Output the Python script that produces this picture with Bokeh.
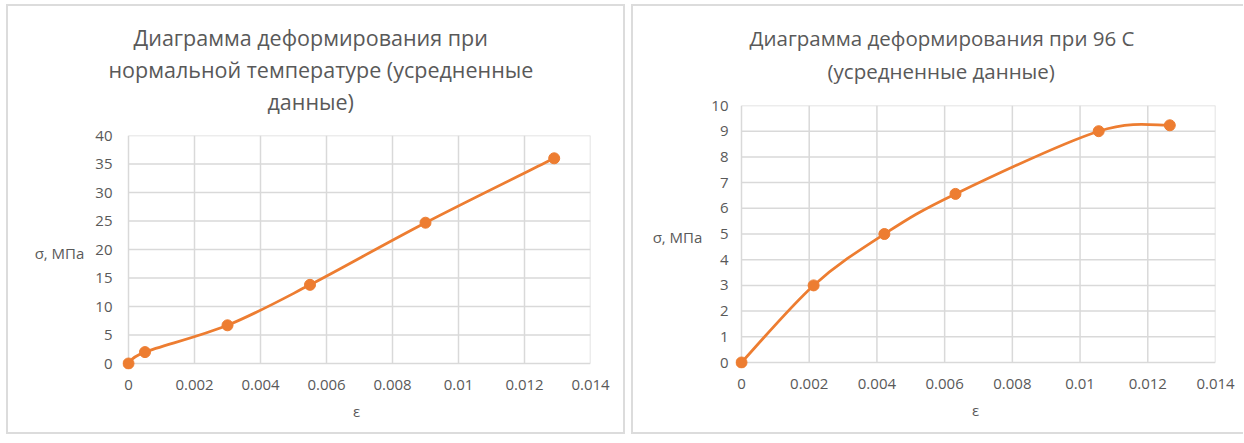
from bokeh.plotting import figure
from bokeh.models import Title, FixedTicker, ColumnDataSource
from bokeh.embed import file_html
from bokeh.resources import INLINE

# ---- data ----
eps_normal = [0.0, 0.0005, 0.0030, 0.0055, 0.0090, 0.0129]
sigma_normal = [0.0, 2.0, 6.7, 13.8, 24.7, 36.0]

eps_96 = [0.0, 0.00213, 0.00422, 0.00632, 0.01055, 0.01265]
sigma_96 = [0.0, 3.0, 5.0, 6.56, 9.0, 9.23]

x_ticks = [0, 0.002, 0.004, 0.006, 0.008, 0.01, 0.012, 0.014]
x_tick_labels = ["0", "0.002", "0.004", "0.006", "0.008", "0.01", "0.012", "0.014"]
y_ticks_normal = [0, 5, 10, 15, 20, 25, 30, 35, 40]
y_ticks_96 = [0, 1, 2, 3, 4, 5, 6, 7, 8, 9, 10]

title_normal = ["Диаграмма деформирования при",
                "нормальной температуре (усредненные",
                "данные)"]
title_96 = ["Диаграмма деформирования при 96 С",
            "(усредненные данные)"]
x_label = "ε"
y_label = "σ, МПа"

FONT = "Open Sans"
TXT = "#595959"
GRID = "#d9d9d9"
ORANGE = "#ED7D31"
BORDER = "2px solid #dcdcdc"


def smooth_segments(xs, ys):
    n = len(xs)
    px = [xs[0]] + list(xs) + [xs[-1]]
    py = [ys[0]] + list(ys) + [ys[-1]]
    d = dict(x0=[], y0=[], x1=[], y1=[], cx0=[], cy0=[], cx1=[], cy1=[])
    for i in range(1, n):
        d["x0"].append(px[i]); d["y0"].append(py[i])
        d["x1"].append(px[i + 1]); d["y1"].append(py[i + 1])
        d["cx0"].append(px[i] + (px[i + 1] - px[i - 1]) / 6)
        d["cy0"].append(py[i] + (py[i + 1] - py[i - 1]) / 6)
        d["cx1"].append(px[i + 1] - (px[i + 2] - px[i]) / 6)
        d["cy1"].append(py[i + 1] - (py[i + 2] - py[i]) / 6)
    return ColumnDataSource(d)


def make_chart(xs, ys, yticks, titles, title_offsets, title_size, title_standoff,
               spacer_standoff, w, h, data_w, data_h, bl, bt, pad, styles,
               ytick_standoff, ylab_standoff):
    xmax = x_ticks[-1]
    ymax = yticks[-1]
    x0 = -pad * xmax / data_w
    y0 = -pad * ymax / data_h
    fw = data_w + pad
    fh = data_h + pad
    p = figure(width=w, height=h,
               x_range=(x0, xmax), y_range=(y0, ymax),
               output_backend="svg", toolbar_location=None,
               min_border_left=bl, min_border_right=w - bl - fw,
               min_border_top=bt, min_border_bottom=h - bt - fh,
               styles=styles)
    p.outline_line_color = None
    p.background_fill_color = "white"
    p.border_fill_color = "white"
    p.grid.visible = False

    # gridlines from the tick arrays
    p.segment(x0=x_ticks, y0=[0] * len(x_ticks), x1=x_ticks, y1=[ymax] * len(x_ticks),
              line_color=GRID, line_width=1.5)
    p.segment(x0=[0] * len(yticks), y0=yticks, x1=[xmax] * len(yticks), y1=yticks,
              line_color=GRID, line_width=1.5)

    p.xaxis.ticker = FixedTicker(ticks=x_ticks)
    p.xaxis.major_label_overrides = {t: l for t, l in zip(x_ticks, x_tick_labels)}
    p.yaxis.ticker = FixedTicker(ticks=yticks)
    for ax in (p.xaxis, p.yaxis):
        ax.major_tick_line_color = None
        ax.minor_tick_line_color = None
        ax.major_tick_out = 0
        ax.major_tick_in = 0
        ax.major_label_text_font = FONT
        ax.major_label_text_font_size = "15px"
        ax.major_label_text_color = TXT
        ax.axis_label_text_font = FONT
        ax.axis_label_text_font_size = "15px"
        ax.axis_label_text_color = TXT
        ax.axis_label_text_font_style = "normal"
        ax.axis_line_color = None
    p.xaxis.major_label_standoff = 10
    p.yaxis.major_label_standoff = ytick_standoff
    p.xaxis.axis_label = x_label
    p.xaxis.axis_label_standoff = 8
    p.yaxis.axis_label = y_label
    p.yaxis.axis_label_orientation = "horizontal"
    p.yaxis.axis_label_standoff = ylab_standoff

    src = smooth_segments(xs, ys)
    p.bezier(x0="x0", y0="y0", x1="x1", y1="y1", cx0="cx0", cy0="cy0",
             cx1="cx1", cy1="cy1", source=src, line_color=ORANGE, line_width=2.75)
    p.scatter(xs, ys, size=11, fill_color=ORANGE, line_color=ORANGE)

    # blank spacer between the title block and the plot area
    p.add_layout(Title(text=" ", text_font_size="10px", standoff=spacer_standoff), "above")
    # titles: bottom line first so that the first line ends on top
    for t, off in reversed(list(zip(titles, title_offsets))):
        p.add_layout(Title(text=t, align="left", offset=off, standoff=title_standoff,
                           text_font=FONT, text_font_size=title_size,
                           text_font_style="normal", text_color=TXT), "above")
    return p


left = make_chart(eps_normal, sigma_normal, y_ticks_normal, title_normal,
                  [11, -14, 145], "21.5px", 1, 6,
                  w=619, h=430, data_w=462, data_h=228, bl=114, bt=129, pad=6,
                  styles={"position": "absolute", "left": "6px", "top": "4px",
                          "border": BORDER},
                  ytick_standoff=10, ylab_standoff=8)
right = make_chart(eps_96, sigma_96, y_ticks_96, title_96,
                   [14, 92], "20.5px", 3, 6,
                   w=612, h=430, data_w=474, data_h=257, bl=102, bt=99, pad=6,
                   styles={"position": "absolute", "left": "631px", "top": "4px",
                           "border-top": BORDER, "border-left": BORDER,
                           "border-bottom": BORDER},
                   ytick_standoff=7, ylab_standoff=6)

open("out.html", "w").write(file_html([left, right], INLINE))
